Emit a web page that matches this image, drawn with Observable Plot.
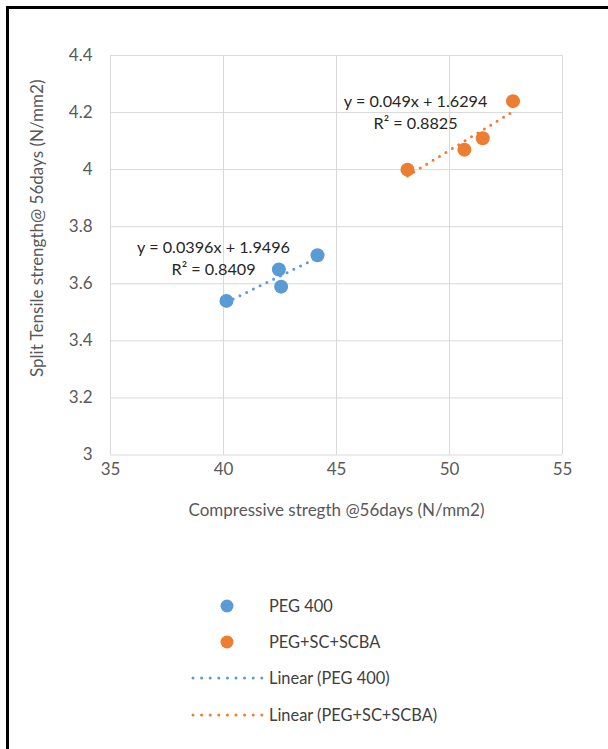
<!DOCTYPE html>
<html><head><meta charset="utf-8">
<script src="https://cdn.jsdelivr.net/npm/d3@7"></script>
<script src="https://cdn.jsdelivr.net/npm/@observablehq/plot@0.6"></script>
<style>
html,body{margin:0;padding:0;background:#fff;width:608px;height:749px;overflow:hidden;font-family:Lato,sans-serif}
#wrap{position:relative;width:608px;height:749px}
#frame{position:absolute;left:6px;top:6px;width:700px;height:800px;border-left:3px solid #000;border-top:3px solid #000;box-sizing:border-box;pointer-events:none}
#chart{position:absolute;left:0;top:0}
.leg{position:absolute;left:0;width:608px;height:24px;font-size:16.4px;color:#404040}
.leg svg{position:absolute;left:0;top:0}
.leg span{position:absolute;left:269px;top:2px;line-height:20px}
</style>
</head><body>
<div id="wrap"><div id="chart"></div><div id="legend"></div><div id="frame"></div></div>
<script>
// ---- data ----
const seriesNames = ["PEG 400", "PEG+SC+SCBA"];
const trendNames = ["Linear (PEG 400)", "Linear (PEG+SC+SCBA)"];
const peg400X = [40.13, 42.45, 42.55, 44.16];
const peg400Y = [3.54, 3.65, 3.59, 3.70];
const pegScX = [48.14, 50.66, 51.47, 52.81];
const pegScY = [4.00, 4.07, 4.11, 4.24];
const xTicks = [35, 40, 45, 50, 55];
const yTicks = [3, 3.2, 3.4, 3.6, 3.8, 4, 4.2, 4.4];
const yTickLabels = ["3", "3.2", "3.4", "3.6", "3.8", "4", "4.2", "4.4"];
const xTitle = "Compressive stregth @56days (N/mm2)";
const yTitle = "Split Tensile strength@ 56days (N/mm2)";
const eqLabels = ["y = 0.0396x + 1.9496", "R² = 0.8409", "y = 0.049x + 1.6294", "R² = 0.8825"];
const eqX = [39.56, 39.56, 48.5, 48.5];
const eqY = [3.726, 3.649, 4.237, 4.160];
const colors = ["#5B9BD5", "#ED7D31"];

// ---- build ----
const pts = [
  ...peg400X.map((x, i) => ({x, y: peg400Y[i], s: seriesNames[0]})),
  ...pegScX.map((x, i) => ({x, y: pegScY[i], s: seriesNames[1]}))
];
const eq = eqLabels.map((t, i) => ({t, x: eqX[i], y: eqY[i]}));
const color = d3.scaleOrdinal(seriesNames, colors);

const chart = Plot.plot({
  width: 608, height: 540,
  marginLeft: 110, marginRight: 46, marginTop: 55, marginBottom: 85.5,
  x: {domain: [35, 55]},
  y: {domain: [3, 4.4]},
  style: {fontFamily: "Lato, sans-serif", fontSize: "17px", color: "#595959", background: "transparent"},
  marks: [
    Plot.gridX(xTicks, {stroke: "#d9d9d9", strokeOpacity: 1, strokeWidth: 1}),
    Plot.gridY(yTicks, {stroke: "#d9d9d9", strokeOpacity: 1, strokeWidth: 1}),
    Plot.axisX(xTicks, {tickSize: 0, tickPadding: 8, label: null, fill: "#595959", fontSize: 17}),
    Plot.axisY(yTicks, {tickSize: 0, tickPadding: 18, label: null, fill: "#595959", fontSize: 17,
      tickFormat: (d, i) => yTickLabels[i]}),
    Plot.text([xTitle], {frameAnchor: "bottom", lineAnchor: "middle", textAnchor: "middle", dy: 55.5, fill: "#595959", fontSize: 17}),
    Plot.text([yTitle], {frameAnchor: "left", lineAnchor: "middle", textAnchor: "middle", rotate: -90, dx: -73, dy: -27, fill: "#595959", fontSize: 17}),
    Plot.dot(pts, {x: "x", y: "y", r: 7, fill: d => color(d.s), stroke: null}),
    Plot.linearRegressionY(pts, {x: "x", y: "y", z: "s", stroke: d => color(d.s), ci: 0,
      strokeWidth: 3, strokeDasharray: "0 7.5", strokeLinecap: "round"}),
    Plot.text(eq, {x: "x", y: "y", text: "t", fill: "#262626", fontSize: 16.2})
  ]
});
document.getElementById("chart").append(chart);

// ---- legend ----
const legTops = [606, 642, 678, 715];
const legend = document.getElementById("legend");
[0, 1, 2, 3].forEach(i => {
  const div = document.createElement("div");
  div.className = "leg";
  div.style.top = (legTops[i] - 12) + "px";
  const c = colors[i % 2];
  const sw = i < 2
    ? `<svg width="300" height="24"><circle cx="227" cy="12" r="6.5" fill="${c}"/></svg>`
    : `<svg width="300" height="24"><line x1="193" x2="262" y1="12" y2="12" stroke="${c}" stroke-width="3" stroke-dasharray="0 8.6" stroke-linecap="round"/></svg>`;
  div.innerHTML = sw + `<span>${i < 2 ? seriesNames[i] : trendNames[i - 2]}</span>`;
  legend.append(div);
});
</script>
</body></html>
